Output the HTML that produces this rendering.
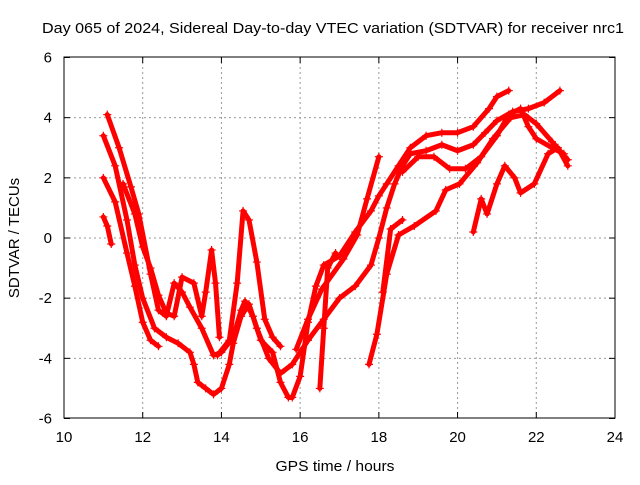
<!DOCTYPE html>
<html><head><meta charset="utf-8"><style>
body{margin:0;background:#fff}
svg text{font-family:"Liberation Sans",sans-serif;font-size:15px;fill:#000}
</style></head><body>
<svg id="chart" width="640" height="480" xmlns="http://www.w3.org/2000/svg">
<rect width="640" height="480" fill="#fff"/>
<text x="333" y="33" text-anchor="middle" textLength="582" lengthAdjust="spacingAndGlyphs">Day 065 of 2024, Sidereal Day-to-day VTEC variation (SDTVAR) for receiver nrc1</text>
<text x="335" y="471" text-anchor="middle" textLength="119" lengthAdjust="spacingAndGlyphs">GPS time / hours</text>
<text transform="translate(19,238) rotate(-90)" text-anchor="middle">SDTVAR / TECUs</text>
<g id="grid"></g>
<g id="series"></g>
<rect x="64" y="57" width="551" height="361" fill="none" stroke="#000" stroke-width="1"/>
<g id="ticks"></g>
</svg>
<script>
const xTicks=[10,12,14,16,18,20,22,24];
const yTicks=[-6,-4,-2,0,2,4,6];
const s1=[[11.0,2.0],[11.3,1.2],[11.6,-0.5],[11.8,-1.6],[12.0,-2.8],[12.2,-3.4],[12.4,-3.6]];
const s2=[[11.0,3.4],[11.3,2.4],[11.6,0.6],[11.8,-0.9],[12.0,-2.0],[12.3,-3.0],[12.6,-3.3],[12.9,-3.5],[13.2,-3.8],[13.3,-4.2],[13.4,-4.8],[13.6,-5.0],[13.8,-5.2],[14.0,-5.0],[14.2,-4.2],[14.3,-3.5],[14.5,-2.6],[14.7,-2.2],[14.9,-3.0],[15.2,-4.0],[15.5,-4.5],[15.8,-4.2],[16.2,-3.4],[16.6,-2.7],[17.0,-2.0],[17.4,-1.6],[17.8,-0.9],[18.0,0],[18.2,1.0],[18.4,1.8],[18.6,2.4],[18.8,2.8],[19.2,2.9],[19.6,3.1],[20.0,2.9],[20.4,3.1],[20.7,3.5],[21.0,3.9],[21.4,4.2],[21.8,4.3],[22.2,4.5],[22.6,4.9]];
const s3=[[11.1,4.1],[11.4,3.0],[11.7,1.7],[11.9,0.8],[12.2,-1.2],[12.4,-2.4],[12.6,-2.6],[12.8,-1.5],[13.0,-1.8],[13.2,-2.3],[13.5,-3.0],[13.8,-3.9],[14.0,-3.8],[14.3,-3.3],[14.5,-2.4],[14.6,-2.1],[14.8,-2.6],[15.0,-3.4],[15.3,-3.8],[15.5,-4.8],[15.7,-5.3],[15.8,-5.3],[16.0,-4.6],[16.2,-2.8],[16.4,-1.6],[16.6,-0.9],[17.0,-0.6],[17.4,0.2],[17.8,0.9],[18.0,1.4],[18.2,1.8],[18.5,2.4],[18.8,3.0],[19.2,3.4],[19.6,3.5],[20.0,3.5],[20.4,3.7],[20.8,4.3],[21.0,4.7],[21.3,4.9]];
const s4=[[11.5,1.8],[11.8,0.8],[12.0,-0.3],[12.2,-1.0],[12.4,-1.9],[12.6,-2.5],[12.8,-2.6],[13.0,-1.3],[13.3,-1.5],[13.5,-2.6],[13.6,-1.8],[13.75,-0.4],[13.85,-1.5],[13.95,-3.3]];
const s5=[[13.9,-3.9],[14.2,-3.4],[14.4,-1.5],[14.55,0.9],[14.7,0.6],[14.9,-0.8],[15.1,-2.7],[15.3,-3.3],[15.5,-3.6]];
const s6=[[18.6,2.2],[19.0,2.7],[19.4,2.7],[19.8,2.3],[20.2,2.3],[20.6,2.7],[21.0,3.4],[21.3,4.1],[21.6,4.3],[21.8,3.7],[22.0,3.3],[22.4,3.0],[22.7,2.8]];
const s7=[[17.75,-4.2],[17.95,-3.2],[18.2,-1.2],[18.5,0.1],[18.9,0.4],[19.45,0.9],[19.7,1.6],[20.05,1.8],[20.5,2.5],[20.9,3.3],[21.35,4.0],[21.7,4.1],[22.0,3.8],[22.4,3.2],[22.8,2.6]];
const s8=[[20.4,0.2],[20.6,1.3],[20.75,0.8],[21.0,1.8],[21.2,2.4],[21.45,2.0],[21.6,1.5],[21.95,1.8],[22.3,2.8],[22.55,3.0],[22.8,2.4]];
const s9=[[15.9,-3.7],[16.2,-2.7],[16.55,-1.7],[17.1,-0.7],[17.45,0.1],[17.7,1.3],[18.0,2.7]];
const s10=[[16.5,-5.0],[16.6,-3.0],[16.7,-1.0],[16.9,-0.5]];
const s11=[[18.1,-1.8],[18.3,0.3],[18.6,0.6]];
const s12=[[11.0,0.7],[11.1,0.4],[11.2,-0.2]];
const allSeries=[s1,s2,s3,s4,s5,s6,s7,s8,s9,s10,s11,s12];
const X=v=>64+(v-10)*(551/14);
const Y=v=>238-v*(361/12);
const NS="http://www.w3.org/2000/svg";
const grid=document.getElementById('grid'),ticks=document.getElementById('ticks'),ser=document.getElementById('series');
function mk(t,a){const e=document.createElementNS(NS,t);for(const k in a)e.setAttribute(k,a[k]);return e;}
xTicks.forEach(v=>{const x=X(v);
 if(v>10&&v<24){const g=mk('line',{x1:x,y1:57,x2:x,y2:418,stroke:'#999','stroke-dasharray':'2,3'});grid.appendChild(g);}
 const t1=mk('line',{x1:x,y1:418,x2:x,y2:412,stroke:'#000'});ticks.appendChild(t1);
 const t2=mk('line',{x1:x,y1:57,x2:x,y2:63,stroke:'#000'});ticks.appendChild(t2);
 const l=mk('text',{x:x,y:442,'text-anchor':'middle'});l.textContent=v;ticks.appendChild(l);});
yTicks.forEach(v=>{const y=Y(v);
 if(v>-6&&v<6){const g=mk('line',{x1:64,y1:y,x2:615,y2:y,stroke:'#999','stroke-dasharray':'2,3'});grid.appendChild(g);}
 const t1=mk('line',{x1:64,y1:y,x2:70,y2:y,stroke:'#000'});ticks.appendChild(t1);
 const t2=mk('line',{x1:615,y1:y,x2:609,y2:y,stroke:'#000'});ticks.appendChild(t2);
 const l=mk('text',{x:52,y:y+5,'text-anchor':'end'});l.textContent=v;ticks.appendChild(l);});
allSeries.forEach((s,i)=>{
 const p=mk('polyline',{points:s.map(d=>X(d[0])+','+Y(d[1])).join(' '),fill:'none',stroke:'#f00','stroke-width':5,'stroke-linejoin':'round','stroke-linecap':'round'});
 
 
 ser.appendChild(p);
 s.forEach(d=>{const x=X(d[0]),y=Y(d[1]);
  const m=mk('path',{d:`M${x-4},${y}H${x+4}M${x},${y-4}V${y+4}`,stroke:'#f00','stroke-width':1.2});
  
  
  ser.appendChild(m);});
});
</script>
</body></html>
